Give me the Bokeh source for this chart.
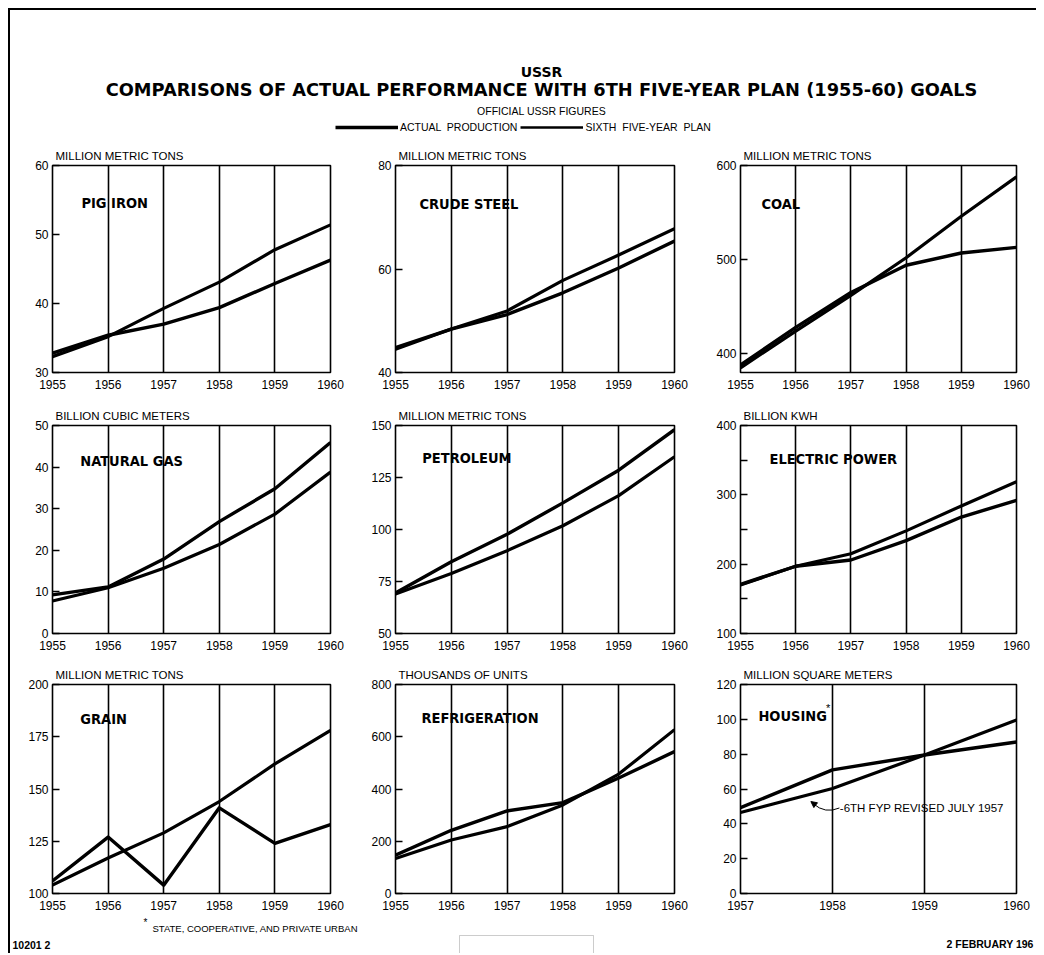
from bokeh.plotting import figure
from bokeh.layouts import column, row
from bokeh.models import (Range1d, FixedTicker, Label, Arrow, NormalHead,
                          BoxAnnotation, Legend, LegendItem)
from bokeh.embed import file_html
from bokeh.resources import INLINE

# ---------------- data ----------------
years = [1955, 1956, 1957, 1958, 1959, 1960]
housing_years = [1957, 1958, 1959, 1960]

pig_iron_actual = [32.8, 35.4, 37.0, 39.4, 42.9, 46.3]
pig_iron_plan = [32.3, 35.2, 39.3, 43.1, 47.8, 51.4]

crude_steel_actual = [44.8, 48.4, 51.2, 55.4, 60.2, 65.4]
crude_steel_plan = [44.5, 48.4, 51.9, 57.8, 62.7, 67.8]

coal_actual = [388, 428, 465, 494, 507, 513]
coal_plan = [385, 424, 462, 502, 546, 588]

gas_actual = [9.3, 11.2, 17.9, 26.9, 34.8, 45.9]
gas_plan = [7.8, 11.0, 15.7, 21.4, 28.7, 38.8]

oil_actual = [69.5, 84.5, 97.7, 112.8, 128.5, 148.0]
oil_plan = [69.0, 78.8, 89.8, 101.8, 116.3, 135.0]

power_actual = [171, 197, 206, 234, 268, 292]
power_plan = [170, 197, 215, 248, 284, 319]

grain_actual = [106, 127, 104, 141, 124, 133]
grain_plan = [104, 117, 129, 144, 162, 178]

fridge_actual = [147, 242, 316, 348, 442, 543]
fridge_plan = [134, 205, 256, 339, 457, 627]

housing_actual = [49.3, 71.0, 79.5, 87.0]
housing_plan = [46.5, 60.3, 79.5, 99.6]

titles = ["PIG IRON", "CRUDE  STEEL", "COAL", "NATURAL  GAS", "PETROLEUM",
          "ELECTRIC POWER", "GRAIN", "REFRIGERATION", "HOUSING"]
units = ["MILLION  METRIC  TONS", "MILLION  METRIC  TONS", "MILLION  METRIC  TONS",
         "BILLION  CUBIC  METERS", "MILLION  METRIC  TONS", "BILLION  KWH",
         "MILLION  METRIC  TONS", "THOUSANDS  OF  UNITS", "MILLION  SQUARE  METERS"]
y_ranges = [(30, 60), (40, 80), (380, 600), (0, 50), (50, 150), (100, 400),
            (100, 200), (0, 800), (0, 120)]
y_ticks = [[30, 40, 50, 60], [40, 60, 80], [400, 500, 600], [0, 10, 20, 30, 40, 50],
           [50, 75, 100, 125, 150], [100, 200, 300, 400], [100, 125, 150, 175, 200],
           [0, 200, 400, 600, 800], [0, 20, 40, 60, 80, 100, 120]]
y_minor = [[], [], [], [], [], [150, 250, 350], [], [], []]

main_title = "COMPARISONS OF ACTUAL PERFORMANCE WITH 6TH FIVE-YEAR PLAN (1955-60) GOALS"
note_text = "6TH FYP REVISED JULY 1957"
footnote = "STATE, COOPERATIVE, AND PRIVATE URBAN"

# ---------------- layout / style ----------------
COL_W = [341, 345, 340]
COL_FRAME = [278, 279, 276]
COL_LEFT = [42, 44, 44]
ROW_H = [260, 260, 255]
ROW_TOP = [25, 25, 24]
ROW_BOT = [28, 27, 22]
TITLE_POS = [(0.104, 0.179), (0.086, 0.187), (0.076, 0.184),
             (0.10, 0.172), (0.096, 0.155), (0.105, 0.159),
             (0.10, 0.167), (0.093, 0.159), (0.065, 0.152)]
NARROW = "DejaVu Sans Condensed"
SANS = "Liberation Sans"


def make_panel(i, xs, actual, plan):
    c, r = i % 3, i // 3
    y0, y1 = y_ranges[i]
    p = figure(width=COL_W[c], height=ROW_H[r],
               x_range=Range1d(xs[0], xs[-1]), y_range=Range1d(y0, y1),
               output_backend="svg", toolbar_location=None,
               min_border_left=COL_LEFT[c],
               min_border_right=COL_W[c] - COL_LEFT[c] - COL_FRAME[c],
               min_border_top=ROW_TOP[r], min_border_bottom=ROW_BOT[r])
    p.outline_line_color = "black"
    p.outline_line_width = 1.6
    p.background_fill_color = "white"
    p.border_fill_color = "white"

    p.title.text = units[i]
    p.title.align = "left"
    p.title.offset = 3
    p.title.standoff = 7
    p.title.text_font = SANS
    p.title.text_font_style = "normal"
    p.title.text_font_size = "11.5px"
    p.title.text_color = "black"

    p.xaxis.ticker = FixedTicker(ticks=xs)
    p.xaxis.axis_line_color = None
    p.xaxis.major_tick_line_color = None
    p.xaxis.minor_tick_line_color = None
    p.xaxis.major_label_text_font = SANS
    p.xaxis.major_label_text_font_size = "12px"
    p.xaxis.major_label_text_color = "black"
    p.xaxis.major_label_standoff = 1

    p.yaxis.ticker = FixedTicker(ticks=y_ticks[i], minor_ticks=y_minor[i])
    p.yaxis.axis_line_color = None
    p.yaxis.major_tick_in = 7
    p.yaxis.major_tick_out = 0
    p.yaxis.major_tick_line_width = 1.3
    p.yaxis.minor_tick_in = 7
    p.yaxis.minor_tick_out = 0
    p.yaxis.minor_tick_line_color = "black"
    p.yaxis.minor_tick_line_width = 1.3
    p.yaxis.major_label_text_font = SANS
    p.yaxis.major_label_text_font_size = "12px"
    p.yaxis.major_label_text_color = "black"
    p.yaxis.major_label_standoff = 4

    p.xgrid.grid_line_color = "black"
    p.xgrid.grid_line_width = 1.6
    p.ygrid.grid_line_color = None

    p.line(xs, plan, line_color="black", line_width=3.2, line_join="round")
    p.line(xs, actual, line_color="black", line_width=3.4, line_join="round")

    fx, fy = TITLE_POS[i]
    p.add_layout(Label(x=xs[0] + fx * (xs[-1] - xs[0]), y=y1 - fy * (y1 - y0),
                       text=titles[i], text_baseline="middle", text_font=NARROW,
                       text_font_style="bold", text_font_size="14.5px",
                       text_color="black"))
    return p


series = [(years, pig_iron_actual, pig_iron_plan),
          (years, crude_steel_actual, crude_steel_plan),
          (years, coal_actual, coal_plan),
          (years, gas_actual, gas_plan),
          (years, oil_actual, oil_plan),
          (years, power_actual, power_plan),
          (years, grain_actual, grain_plan),
          (years, fridge_actual, fridge_plan),
          (housing_years, housing_actual, housing_plan)]
panels = [make_panel(i, *s) for i, s in enumerate(series)]

# housing extras: asterisk and the note with a curved arrow
hp = panels[8]
hp.add_layout(Label(x=1957.93, y=106.5, text="*", text_font=SANS,
                    text_font_size="11px", text_baseline="middle",
                    text_color="black"))
hp.add_layout(Label(x=1958.08, y=49.1, text="-" + note_text, text_font=SANS,
                    text_font_size="11.5px", text_baseline="middle",
                    text_color="black"))
hp.quadratic(x0=[1958.075], y0=[49.1], x1=[1957.79], y1=[51.6],
             cx=[1957.92], cy=[45.5], line_color="black", line_width=1)
hp.add_layout(Arrow(x_start=1957.80, y_start=51.4, x_end=1957.765, y_end=52.8,
                    line_alpha=0, end=NormalHead(size=6, fill_color="black",
                                                 line_color="black")))

# ---------------- header (canvas coordinates = page pixels) ----------------
header = figure(width=1026, height=130, x_range=Range1d(10, 1036),
                y_range=Range1d(140, 10), x_axis_type=None, y_axis_type=None,
                output_backend="svg", toolbar_location=None, min_border=0)
header.outline_line_color = None
header.grid.visible = False
header.add_layout(Label(x=541, y=71, text="USSR", text_align="center",
                        text_baseline="middle", text_font="DejaVu Sans",
                        text_font_style="bold", text_font_size="14px",
                        text_color="black"))
header.add_layout(Label(x=541, y=89, text=main_title, text_align="center",
                        text_baseline="middle", text_font="DejaVu Sans",
                        text_font_style="bold", text_font_size="17.8px",
                        text_color="black"))
header.add_layout(Label(x=544, y=110, text="OFFICIAL  USSR  FIGURES",
                        text_align="center", text_baseline="middle",
                        text_font=SANS, text_font_size="10.5px",
                        text_color="black"))
# legend samples: renderers carrying real data but lying outside the header's view
r_act = header.line(years, pig_iron_actual, line_color="black", line_width=3.5)
r_plan = header.line(years, pig_iron_plan, line_color="black", line_width=2.5)
legend = Legend(items=[LegendItem(label="ACTUAL  PRODUCTION", renderers=[r_act]),
                       LegendItem(label="SIXTH  FIVE-YEAR  PLAN", renderers=[r_plan])],
                orientation="horizontal", location=(325, 7), glyph_width=63,
                glyph_height=12, label_height=12, label_standoff=2, spacing=3,
                padding=0, margin=0, border_line_color=None,
                background_fill_alpha=0, label_text_font=SANS,
                label_text_font_size="10.5px", label_text_color="black")
header.add_layout(legend)

# ---------------- footer ----------------
footer = figure(width=1026, height=38, x_range=Range1d(10, 1036),
                y_range=Range1d(953, 915), x_axis_type=None, y_axis_type=None,
                output_backend="svg", toolbar_location=None, min_border=0)
footer.outline_line_color = None
footer.grid.visible = False
footer.add_layout(Label(x=143, y=922, text="*", text_font=SANS,
                        text_font_size="10px", text_baseline="middle",
                        text_color="black"))
footer.add_layout(Label(x=152, y=928, text=footnote, text_font=SANS,
                        text_font_size="9.5px", text_baseline="middle",
                        text_color="black"))
footer.add_layout(Label(x=12, y=944, text="10201 2", text_font=SANS,
                        text_font_style="bold", text_font_size="10.5px",
                        text_baseline="middle", text_color="black"))
footer.add_layout(Label(x=946, y=943, text="2 FEBRUARY 196", text_font=SANS,
                        text_font_style="bold", text_font_size="10.5px",
                        text_baseline="middle", text_color="black"))
footer.add_layout(BoxAnnotation(left=459, right=593, top=935, bottom=960,
                                fill_alpha=0, line_color="#555555",
                                line_width=1))

layout = column(header,
                row(*panels[0:3]), row(*panels[3:6]), row(*panels[6:9]),
                footer,
                styles={"margin-left": "8px", "margin-top": "8px",
                        "border-left": "2px solid black",
                        "border-top": "2px solid black"})

open("out.html", "w").write(file_html(layout, INLINE))
